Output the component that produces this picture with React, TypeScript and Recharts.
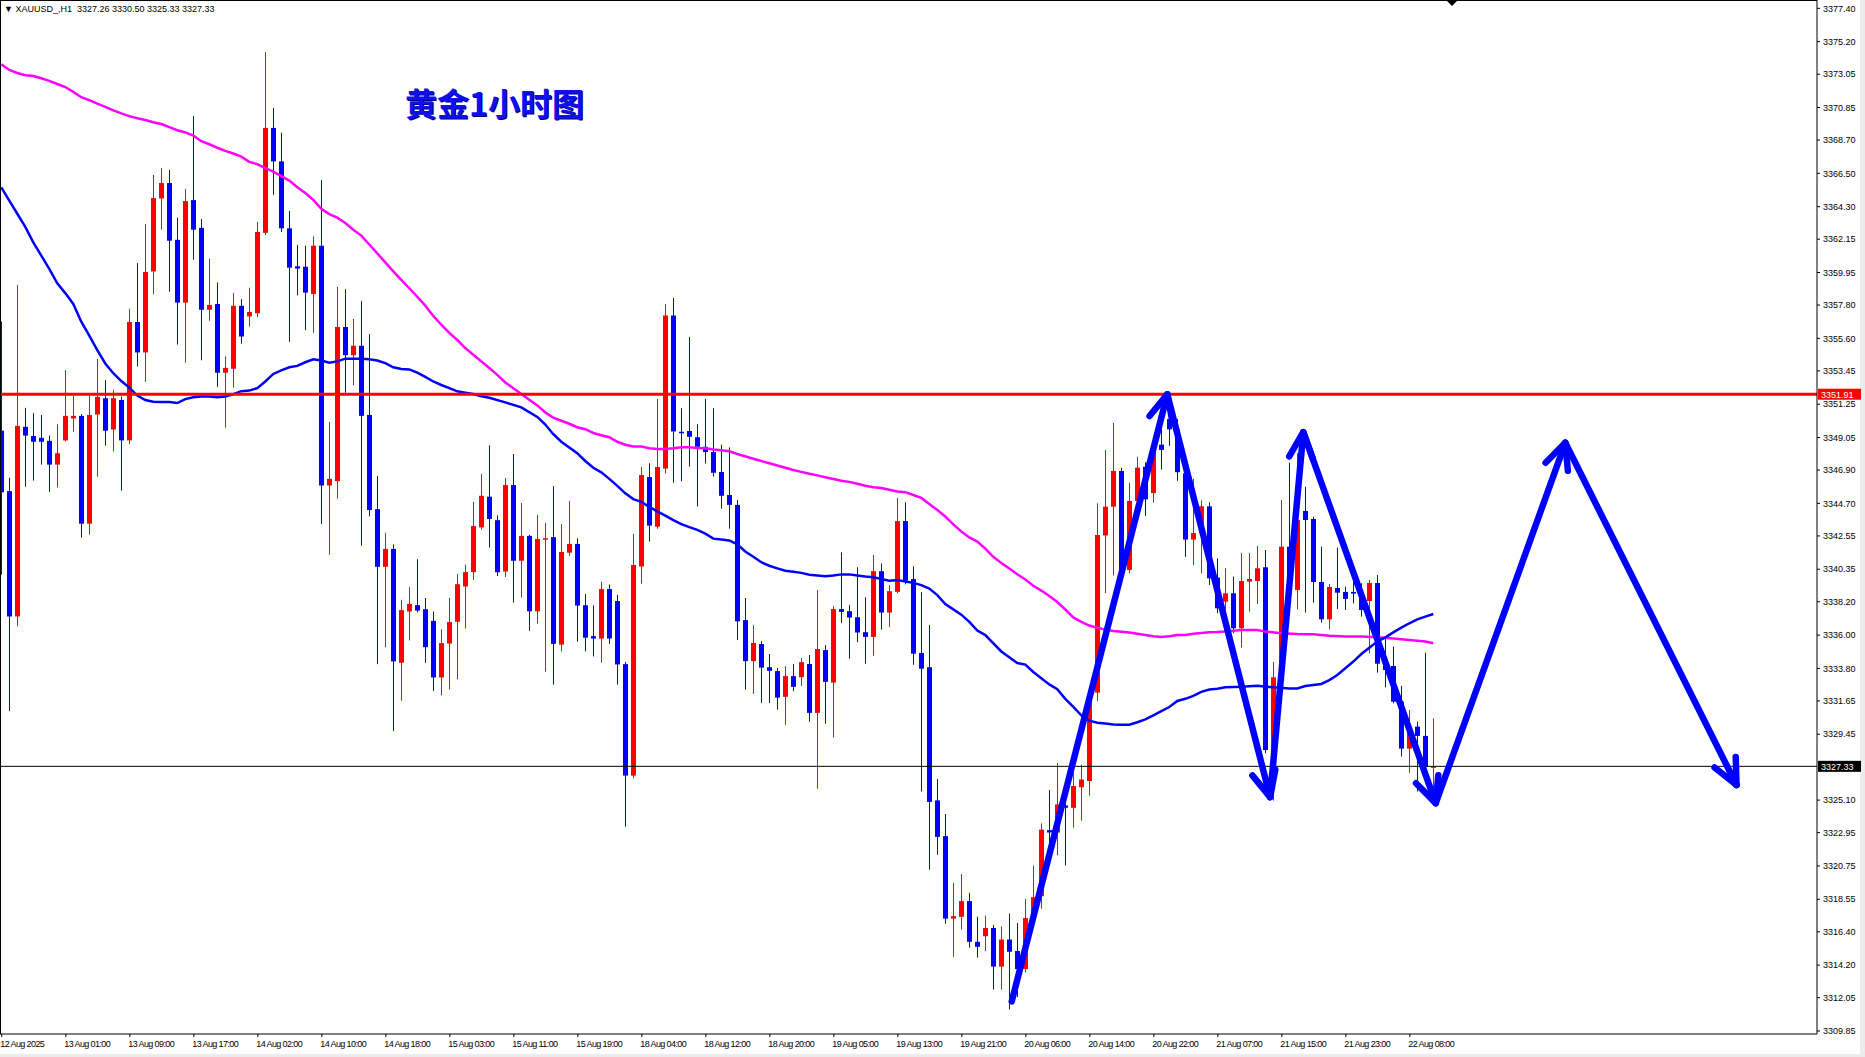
import React from "react";
import { ComposedChart, Bar, Line, XAxis, YAxis, ReferenceLine } from "recharts";

// XAUUSD H1 candles (bar 0 = 12 Aug 17:00)
const opens = [
  3349.5, 3345.51, 3337.23, 3349.76, 3349.15, 3349.03, 3348.83, 3347.26, 3348.86, 3350.31,
  3350.48, 3343.36, 3350.57, 3351.65, 3349.58, 3351.53, 3348.86, 3356.68, 3354.67, 3360.02,
  3364.84, 3365.86, 3362.11, 3357.96, 3364.73, 3362.9, 3357.49, 3357.87, 3353.33, 3353.59,
  3357.75, 3357.05, 3357.26, 3362.57, 3369.5, 3367.29, 3362.87, 3360.36, 3360.33, 3358.53,
  3361.72, 3345.88, 3346.17, 3356.35, 3354.49, 3355.11, 3350.54, 3344.32, 3340.51, 3341.69,
  3334.17, 3337.56, 3337.98, 3337.71, 3336.94, 3333.2, 3335.44, 3336.88, 3339.21, 3340.16,
  3343.11, 3345.14, 3343.59, 3340.2, 3345.91, 3340.91, 3342.55, 3337.57, 3342.3, 3342.47,
  3335.37, 3341.44, 3342.02, 3337.97, 3335.93, 3335.77, 3339.04, 3338.25, 3334.08, 3326.72,
  3340.53, 3346.44, 3343.16, 3347.0, 3357.11, 3349.43, 3349.48, 3349.07, 3348.44, 3348.09,
  3346.77, 3345.25, 3344.6, 3336.99, 3334.28, 3335.41, 3333.88, 3333.62, 3331.92, 3333.29,
  3333.22, 3334.09, 3330.86, 3335.01, 3332.86, 3337.72, 3337.58, 3337.18, 3336.19, 3335.88,
  3340.22, 3337.49, 3338.86, 3343.53, 3339.7, 3334.82, 3333.88, 3325.08, 3322.72, 3317.27,
  3317.39, 3318.43, 3315.74, 3316.11, 3316.65, 3314.1, 3315.89, 3315.13, 3313.94, 3317.52,
  3318.75, 3323.12, 3322.96, 3324.75, 3324.59, 3325.95, 3326.36, 3332.2, 3342.58, 3344.48,
  3346.84, 3340.3, 3344.86, 3347.12, 3345.38, 3348.58, 3350.27, 3349.59, 3346.68, 3342.31,
  3342.74, 3344.5, 3339.8, 3338.21, 3338.76, 3336.45, 3339.53, 3339.57, 3340.48, 3328.41,
  3333.21, 3341.84, 3338.98, 3344.2, 3343.67, 3339.51, 3337.04, 3339.11, 3338.85, 3338.85,
  3338.76, 3338.25, 3339.44, 3334.11, 3333.96, 3331.6, 3328.5, 3329.95, 3329.34, 3327.26,
];

const highs = [
  3356.71, 3346.39, 3359.12, 3351.01, 3350.66, 3350.54, 3349.18, 3349.93, 3353.51, 3351.82,
  3350.6, 3351.91, 3354.23, 3352.84, 3352.2, 3351.76, 3357.55, 3360.57, 3363.16, 3366.39,
  3366.85, 3366.73, 3363.57, 3365.46, 3370.28, 3363.48, 3360.86, 3359.29, 3354.41, 3358.59,
  3358.19, 3358.94, 3363.28, 3374.51, 3370.83, 3369.18, 3364.02, 3361.77, 3361.72, 3362.33,
  3366.05, 3350.07, 3359.0, 3358.85, 3356.88, 3358.06, 3355.88, 3346.5, 3342.75, 3341.99,
  3338.33, 3339.16, 3341.01, 3338.45, 3337.56, 3336.38, 3338.45, 3340.04, 3340.66, 3344.79,
  3346.65, 3348.53, 3343.91, 3346.37, 3347.96, 3344.72, 3342.63, 3343.94, 3343.41, 3345.84,
  3343.33, 3344.85, 3342.4, 3338.71, 3337.97, 3339.52, 3339.34, 3338.66, 3334.23, 3342.68,
  3347.1, 3347.35, 3351.6, 3357.87, 3358.27, 3350.99, 3355.69, 3349.93, 3351.6, 3350.99,
  3348.57, 3348.39, 3344.92, 3338.45, 3336.66, 3335.6, 3334.75, 3333.83, 3333.95, 3334.09,
  3334.49, 3334.68, 3338.97, 3335.34, 3337.91, 3341.47, 3337.98, 3340.48, 3338.5, 3341.29,
  3340.74, 3339.3, 3345.06, 3344.78, 3340.55, 3338.83, 3336.66, 3326.49, 3324.18, 3319.63,
  3320.22, 3318.97, 3317.39, 3317.47, 3316.85, 3316.76, 3317.61, 3316.98, 3318.56, 3320.78,
  3323.56, 3325.76, 3327.55, 3325.4, 3327.44, 3327.44, 3332.4, 3344.7, 3348.23, 3350.02,
  3347.06, 3346.06, 3347.77, 3347.42, 3349.05, 3349.59, 3351.22, 3350.27, 3347.42, 3346.33,
  3344.89, 3344.78, 3341.07, 3340.41, 3339.86, 3341.42, 3341.42, 3341.89, 3341.62, 3334.22,
  3344.92, 3347.39, 3348.01, 3345.8, 3343.82, 3341.84, 3339.38, 3341.78, 3339.2, 3339.64,
  3339.42, 3339.64, 3339.97, 3335.9, 3335.24, 3332.64, 3331.05, 3330.28, 3334.84, 3330.5,
];

const lows = [
  3339.99, 3330.98, 3336.59, 3345.8, 3346.21, 3347.26, 3345.46, 3345.75, 3348.8, 3349.44,
  3342.43, 3342.64, 3346.47, 3348.51, 3348.13, 3345.54, 3348.62, 3353.74, 3352.72, 3358.51,
  3362.78, 3358.68, 3355.19, 3354.0, 3360.8, 3354.15, 3356.76, 3352.4, 3349.7, 3352.34,
  3355.25, 3356.39, 3357.0, 3362.42, 3365.08, 3362.63, 3355.37, 3358.44, 3356.14, 3355.96,
  3343.34, 3341.31, 3345.02, 3352.01, 3352.51, 3341.9, 3343.84, 3334.08, 3335.2, 3329.66,
  3331.67, 3335.65, 3337.5, 3334.17, 3332.31, 3332.02, 3332.4, 3333.08, 3336.44, 3339.63,
  3342.96, 3341.78, 3339.9, 3339.84, 3338.15, 3338.48, 3336.28, 3336.76, 3333.58, 3332.72,
  3334.92, 3341.23, 3335.57, 3334.92, 3334.59, 3334.18, 3335.42, 3332.72, 3323.34, 3326.55,
  3339.39, 3342.17, 3343.03, 3346.67, 3346.06, 3346.16, 3347.13, 3344.5, 3347.33, 3346.47,
  3344.35, 3343.03, 3335.67, 3332.39, 3332.11, 3331.52, 3331.52, 3331.07, 3330.08, 3332.3,
  3332.63, 3330.27, 3325.86, 3330.15, 3329.23, 3336.8, 3334.44, 3335.53, 3334.11, 3334.63,
  3336.36, 3336.54, 3338.76, 3339.35, 3334.04, 3325.67, 3320.5, 3321.49, 3316.94, 3314.75,
  3316.54, 3315.36, 3314.7, 3315.13, 3312.58, 3312.58, 3311.27, 3312.09, 3313.72, 3317.25,
  3317.93, 3321.33, 3321.46, 3320.78, 3323.28, 3323.75, 3325.4, 3331.65, 3338.77, 3339.94,
  3339.81, 3340.08, 3344.7, 3343.88, 3344.75, 3346.93, 3348.5, 3346.19, 3341.17, 3340.62,
  3340.08, 3339.3, 3337.44, 3337.66, 3336.12, 3335.17, 3337.55, 3338.05, 3328.19, 3325.07,
  3333.0, 3338.54, 3337.7, 3337.48, 3338.14, 3336.82, 3336.38, 3337.72, 3337.66, 3338.1,
  3337.22, 3334.8, 3333.52, 3332.55, 3331.49, 3327.97, 3326.91, 3325.66, 3326.43, 3325.33,
];

const closes = [
  3345.43, 3337.23, 3349.82, 3349.18, 3348.77, 3348.77, 3347.26, 3348.01, 3350.48, 3350.48,
  3343.36, 3350.54, 3351.73, 3349.5, 3351.65, 3348.86, 3356.68, 3354.67, 3359.99, 3364.87,
  3365.86, 3362.05, 3357.96, 3364.67, 3362.78, 3357.49, 3357.81, 3353.33, 3353.65, 3357.75,
  3355.72, 3357.34, 3362.63, 3369.5, 3367.29, 3362.87, 3360.27, 3360.21, 3358.62, 3361.72,
  3345.88, 3346.32, 3356.35, 3354.49, 3355.11, 3350.48, 3344.26, 3340.51, 3341.69, 3334.26,
  3337.65, 3338.06, 3337.62, 3335.2, 3333.2, 3335.47, 3336.86, 3339.36, 3340.16, 3343.2,
  3345.2, 3343.67, 3340.15, 3345.91, 3340.91, 3342.55, 3337.57, 3342.35, 3342.4, 3335.42,
  3341.49, 3342.02, 3337.95, 3335.83, 3335.77, 3339.04, 3335.77, 3334.06, 3326.72, 3340.63,
  3346.57, 3343.23, 3347.1, 3357.11, 3349.45, 3349.35, 3349.1, 3348.44, 3348.09, 3346.72,
  3345.2, 3344.6, 3336.91, 3334.28, 3335.48, 3333.85, 3333.64, 3331.87, 3333.29, 3332.58,
  3334.21, 3330.86, 3335.08, 3332.91, 3337.72, 3337.53, 3337.16, 3336.17, 3335.88, 3340.22,
  3337.49, 3338.9, 3343.53, 3339.59, 3334.77, 3333.78, 3324.98, 3322.67, 3317.27, 3317.44,
  3318.43, 3315.74, 3315.41, 3316.65, 3314.1, 3315.89, 3315.08, 3313.94, 3317.31, 3318.69,
  3323.15, 3322.96, 3324.81, 3324.59, 3326.03, 3326.46, 3332.1, 3342.61, 3344.48, 3346.84,
  3340.3, 3344.86, 3347.06, 3344.97, 3348.5, 3348.23, 3349.59, 3346.76, 3342.31, 3342.74,
  3344.51, 3339.75, 3337.77, 3338.76, 3336.45, 3339.57, 3339.71, 3340.41, 3328.41, 3333.21,
  3341.84, 3339.2, 3343.6, 3343.6, 3339.51, 3337.04, 3339.18, 3338.8, 3338.39, 3338.74,
  3337.66, 3339.44, 3334.11, 3333.7, 3331.6, 3328.5, 3329.84, 3329.34, 3327.31, 3327.33,
];

// moving averages, [bar, price]
const blueMa = [
  [0, 3365.57], [1, 3364.7], [2, 3363.83], [3, 3362.96], [4, 3361.94], [5, 3361.07], [6, 3360.19],
  [7, 3359.23], [8, 3358.59], [9, 3357.87], [10, 3356.7], [11, 3355.78], [12, 3354.82], [13, 3353.94],
  [14, 3353.3], [15, 3352.78], [16, 3352.35], [17, 3351.82], [18, 3351.53], [19, 3351.41], [20, 3351.39],
  [21, 3351.39], [22, 3351.33], [23, 3351.59], [24, 3351.71], [25, 3351.76], [26, 3351.76], [27, 3351.71],
  [28, 3351.76], [29, 3351.91], [30, 3352.11], [31, 3352.15], [32, 3352.31], [33, 3352.75], [34, 3353.25],
  [35, 3353.49], [36, 3353.69], [37, 3353.78], [38, 3354.02], [39, 3354.22], [40, 3354.14], [41, 3353.99],
  [42, 3354.08], [43, 3354.26], [44, 3354.26], [45, 3354.26], [46, 3354.22], [47, 3354.14], [48, 3353.96],
  [49, 3353.69], [50, 3353.58], [51, 3353.55], [52, 3353.34], [53, 3353.05], [54, 3352.75], [55, 3352.52],
  [56, 3352.31], [57, 3352.1], [58, 3352.01], [59, 3351.92], [60, 3351.78], [61, 3351.68], [63, 3351.37],
  [65, 3351.04], [67, 3350.41], [68, 3349.91], [69, 3349.27], [70, 3348.77], [71, 3348.39], [72, 3348.01],
  [73, 3347.5], [74, 3347.05], [75, 3346.75], [76, 3346.32], [77, 3345.86], [78, 3345.36], [79, 3344.98],
  [80, 3344.8], [81, 3344.47], [82, 3344.17], [83, 3343.89], [84, 3343.59], [85, 3343.33], [86, 3343.13],
  [87, 3342.95], [88, 3342.7], [89, 3342.37], [90, 3342.32], [91, 3342.25], [92, 3342.0], [93, 3341.52],
  [94, 3341.17], [95, 3340.81], [96, 3340.58], [97, 3340.41], [98, 3340.25], [99, 3340.18], [100, 3340.11],
  [101, 3339.99], [102, 3339.94], [103, 3339.89], [104, 3339.94], [105, 3340.01], [106, 3340.01],
  [107, 3339.94], [108, 3339.87], [109, 3339.82], [110, 3339.7], [111, 3339.59], [112, 3339.63],
  [113, 3339.54], [114, 3339.45], [115, 3339.3], [116, 3339.07], [117, 3338.64], [118, 3338.05],
  [119, 3337.7], [120, 3337.35], [121, 3336.87], [122, 3336.3], [123, 3336.0], [125, 3334.92],
  [127, 3334.15], [128, 3334.05], [129, 3333.56], [130, 3333.15], [131, 3332.74], [132, 3332.42],
  [133, 3331.79], [134, 3331.25], [135, 3330.7], [136, 3330.35], [137, 3330.21], [138, 3330.16],
  [139, 3330.1], [140, 3330.08], [141, 3330.08], [142, 3330.24], [143, 3330.43], [144, 3330.7],
  [145, 3330.98], [146, 3331.25], [147, 3331.65], [148, 3331.79], [149, 3331.98], [150, 3332.25],
  [151, 3332.4], [152, 3332.45], [153, 3332.55], [155, 3332.59], [157, 3332.66], [159, 3332.55],
  [161, 3332.48], [162, 3332.48], [163, 3332.64], [164, 3332.7], [165, 3332.77], [166, 3333.03],
  [167, 3333.36], [168, 3333.81], [169, 3334.25], [170, 3334.75], [171, 3335.17], [172, 3335.57],
  [173, 3335.85], [174, 3336.18], [175, 3336.49], [176, 3336.78], [177, 3337.04], [178, 3337.22],
  [179, 3337.39],
];

const magentaMa = [
  [0, 3373.71], [1, 3373.33], [2, 3373.13], [3, 3372.98], [4, 3372.93], [5, 3372.78], [6, 3372.61],
  [7, 3372.4], [8, 3372.2], [9, 3371.88], [10, 3371.53], [11, 3371.33], [12, 3371.1], [13, 3370.89],
  [14, 3370.66], [15, 3370.46], [16, 3370.28], [17, 3370.14], [18, 3370.02], [19, 3369.87], [20, 3369.76],
  [21, 3369.55], [22, 3369.35], [23, 3369.21], [24, 3369.0], [25, 3368.62], [26, 3368.42], [27, 3368.19],
  [28, 3367.98], [29, 3367.81], [30, 3367.6], [31, 3367.26], [32, 3367.11], [33, 3366.85], [34, 3366.61],
  [35, 3366.32], [36, 3366.02], [37, 3365.58], [38, 3365.2], [39, 3364.75], [40, 3364.16], [41, 3363.81],
  [42, 3363.57], [43, 3363.22], [44, 3362.78], [45, 3362.39], [46, 3361.8], [47, 3361.21], [48, 3360.62],
  [49, 3360.03], [50, 3359.47], [51, 3358.91], [52, 3358.35], [53, 3357.76], [54, 3357.08], [55, 3356.5],
  [56, 3355.96], [57, 3355.49], [58, 3354.96], [59, 3354.52], [60, 3354.08], [61, 3353.64], [62, 3353.19],
  [63, 3352.69], [64, 3352.31], [65, 3351.93], [66, 3351.55], [67, 3351.17], [68, 3350.71], [69, 3350.36],
  [70, 3350.16], [71, 3349.96], [72, 3349.73], [73, 3349.6], [74, 3349.35], [75, 3349.2], [76, 3349.07],
  [77, 3348.77], [78, 3348.57], [79, 3348.46], [80, 3348.46], [81, 3348.34], [82, 3348.29], [83, 3348.29],
  [84, 3348.34], [85, 3348.41], [86, 3348.41], [87, 3348.36], [88, 3348.34], [89, 3348.26], [90, 3348.21],
  [91, 3348.14], [92, 3347.96], [94, 3347.65], [96, 3347.35], [98, 3347.05], [99, 3346.9], [100, 3346.78],
  [101, 3346.66], [102, 3346.55], [103, 3346.43], [104, 3346.31], [105, 3346.19], [106, 3346.12],
  [107, 3346.0], [108, 3345.86], [109, 3345.77], [110, 3345.72], [111, 3345.6], [112, 3345.48],
  [113, 3345.44], [114, 3345.25], [115, 3345.06], [116, 3344.66], [117, 3344.26], [118, 3343.83],
  [119, 3343.31], [120, 3342.84], [121, 3342.45], [122, 3342.18], [123, 3341.71], [124, 3341.17],
  [125, 3340.76], [126, 3340.4], [127, 3340.02], [128, 3339.67], [129, 3339.26], [130, 3338.94],
  [131, 3338.58], [132, 3338.18], [133, 3337.69], [134, 3337.17], [135, 3336.87], [136, 3336.63],
  [137, 3336.49], [138, 3336.36], [139, 3336.27], [140, 3336.22], [141, 3336.17], [142, 3336.09],
  [143, 3336.0], [144, 3335.92], [145, 3335.87], [146, 3335.92], [147, 3336.0], [148, 3336.0],
  [149, 3336.09], [150, 3336.14], [151, 3336.19], [152, 3336.2], [153, 3336.23], [155, 3336.34],
  [157, 3336.34], [158, 3336.23], [160, 3336.12], [162, 3336.07], [164, 3336.05], [166, 3335.96],
  [168, 3335.9], [170, 3335.9], [172, 3335.85], [174, 3335.77], [176, 3335.68], [178, 3335.57],
  [179, 3335.46],
];

// hand-drawn forecast zigzag, [bar, price]
const arrowPath = [
  [126.3, 3311.8], [145.75, 3351.9], [158.6, 3325.3], [162.75, 3349.4],
  [179.3, 3324.9], [195.5, 3348.7], [216.9, 3326.1],
];

const resistance = 3351.91;
const lastPrice = 3327.33;

const priceTicks = [
  3377.4, 3375.2, 3373.05, 3370.85, 3368.7, 3366.5, 3364.3, 3362.15, 3359.95, 3357.8, 3355.6,
  3353.45, 3351.25, 3349.05, 3346.9, 3344.7, 3342.55, 3340.35, 3338.2, 3336.0, 3333.8, 3331.65,
  3329.45, 3325.1, 3322.95, 3320.75, 3318.55, 3316.4, 3314.2, 3312.05, 3309.85,
];

const timeLabels = [
  "12 Aug 2025", "13 Aug 01:00", "13 Aug 09:00", "13 Aug 17:00", "14 Aug 02:00", "14 Aug 10:00",
  "14 Aug 18:00", "15 Aug 03:00", "15 Aug 11:00", "15 Aug 19:00", "18 Aug 04:00", "18 Aug 12:00",
  "18 Aug 20:00", "19 Aug 05:00", "19 Aug 13:00", "19 Aug 21:00", "20 Aug 06:00", "20 Aug 14:00",
  "20 Aug 22:00", "21 Aug 07:00", "21 Aug 15:00", "21 Aug 23:00", "22 Aug 08:00",
];
const timeTickBars = timeLabels.map((_, k) => k * 8);

const W = 1865;
const H = 1057;
const AXIS_W = 48;
const AXIS_H = 23;
const PLOT_W = W - AXIS_W;
const PLOT_H = H - AXIS_H;
const FONT = "'Liberation Sans', Arial, sans-serif";

const candles = opens.map((o, i) => ({
  i,
  o,
  h: highs[i],
  l: lows[i],
  c: closes[i],
  range: [lows[i], highs[i]],
}));
const toPts = (arr: number[][]) => arr.map(([i, v]) => ({ i, v }));

function Candle(p: any) {
  const { x, y, width, height, payload } = p;
  if (!payload || x == null || y == null) return <g />;
  const { o, h, l, c } = payload;
  const cx = Math.round(x + width / 2) + 0.5;
  const top = Math.min(y, y + height);
  const span = Math.abs(height);
  const k = h - l > 0 ? span / (h - l) : 0;
  const yO = top + (h - o) * k;
  const yC = top + (h - c) * k;
  const col = c >= o ? "#ff0000" : "#0000ff";
  const bTop = Math.min(yO, yC);
  const bH = Math.max(Math.abs(yO - yC), 1.5);
  return (
    <g>
      <line x1={cx} x2={cx} y1={top} y2={top + span} stroke={col} strokeWidth={1} />
      <rect x={cx - 2.5} y={bTop} width={5} height={bH} fill={col} />
    </g>
  );
}

function makeArrowHeads(color: string, sw: number) {
  let prev: { x: number; y: number } | null = null;
  return (p: any) => {
    const { cx, cy, index } = p;
    const key = `ah-${index}`;
    if (index === 0 || !prev) {
      prev = { x: cx, y: cy };
      return <g key={key} />;
    }
    const ang = Math.atan2(cy - prev.y, cx - prev.x);
    prev = { x: cx, y: cy };
    const len = 28;
    const spread = (25 * Math.PI) / 180;
    const a1 = ang + Math.PI - spread;
    const a2 = ang + Math.PI + spread;
    return (
      <g key={key}>
        <line x1={cx} y1={cy} x2={cx + len * Math.cos(a1)} y2={cy + len * Math.sin(a1)}
          stroke={color} strokeWidth={sw} strokeLinecap="round" />
        <line x1={cx} y1={cy} x2={cx + len * Math.cos(a2)} y2={cy + len * Math.sin(a2)}
          stroke={color} strokeWidth={sw} strokeLinecap="round" />
      </g>
    );
  };
}
const arrowHeads = makeArrowHeads("#0000ff", 6.5);

function TimeTick(p: any) {
  const { x, payload } = p;
  const idx = timeTickBars.indexOf(payload.value);
  return (
    <g>
      <line x1={x + 0.5} x2={x + 0.5} y1={PLOT_H} y2={PLOT_H + 3} stroke="#000" />
      <text x={x - 1} y={PLOT_H + 13} fontSize={9} fontFamily={FONT} fill="#000"
        letterSpacing={-0.6} textAnchor="start">
        {idx >= 0 ? timeLabels[idx] : ""}
      </text>
    </g>
  );
}

// coloured price tag sitting on the right axis
function priceBox(bg: string, value: number) {
  return (p: any) => {
    const vb = p.viewBox || {};
    const x0 = (vb.x || 0) + (vb.width || 0) + 1;
    const y0 = vb.y || 0;
    return (
      <g>
        <rect x={x0} y={y0 - 5.5} width={43} height={11} fill={bg} />
        <text x={x0 + 3} y={y0 + 3.5} fontSize={9} fontFamily={FONT} fill="#fff">
          {value.toFixed(2)}
        </text>
      </g>
    );
  };
}

export default function App() {
  return (
    <div style={{ position: "fixed", left: 0, top: 0, width: W, height: H, background: "#ececec" }}>
      <div style={{ position: "absolute", left: 0, top: 0, width: 1860, height: 1054, background: "#fff" }} />
      <div style={{ position: "absolute", left: 0, top: 0 }}>
        <ComposedChart width={W} height={H} data={candles}
          margin={{ top: 0, right: 0, bottom: 0, left: 0 }}>
          <XAxis type="number" dataKey="i" domain={[-0.16, 226.96]} allowDataOverflow
            ticks={timeTickBars} interval={0} tick={<TimeTick />} tickLine={false}
            tickSize={0} height={AXIS_H} axisLine={{ stroke: "#000", strokeWidth: 1 }} />
          <YAxis orientation="right" type="number" domain={[3309.65, 3377.95]} allowDataOverflow
            ticks={priceTicks} interval={0} width={AXIS_W} tickSize={3} tickMargin={3}
            tickFormatter={(v: number) => v.toFixed(2)}
            tick={{ fontSize: 9, fill: "#000", fontFamily: FONT }}
            axisLine={{ stroke: "#000" }} tickLine={{ stroke: "#000" }} />
          <Bar dataKey="range" barSize={6} isAnimationActive={false}
            shape={(p: any) => <Candle {...p} />} />
          <Line data={toPts(magentaMa)} dataKey="v" type="linear" stroke="#ff00ff"
            strokeWidth={2.5} dot={false} activeDot={false} isAnimationActive={false} />
          <Line data={toPts(blueMa)} dataKey="v" type="linear" stroke="#0000ff"
            strokeWidth={2.5} dot={false} activeDot={false} isAnimationActive={false} />
          <ReferenceLine y={resistance} stroke="#ff0000" strokeWidth={3}
            label={priceBox("#ff0000", resistance)} />
          <ReferenceLine y={lastPrice} stroke="#000" strokeWidth={1}
            label={priceBox("#000", lastPrice)} />
          <Line data={toPts(arrowPath)} dataKey="v" type="linear" stroke="#0000ff"
            strokeWidth={6.5} strokeLinejoin="round" strokeLinecap="round"
            dot={arrowHeads} activeDot={false} isAnimationActive={false} />
        </ComposedChart>
      </div>
      {/* chart frame top/left */}
      <div style={{ position: "absolute", left: 0, top: 0, width: PLOT_W, height: PLOT_H,
        borderTop: "1px solid #000", borderLeft: "1px solid #000", boxSizing: "border-box",
        pointerEvents: "none" }} />
      <div style={{ position: "absolute", left: 4, top: 4, fontFamily: FONT, fontSize: 9,
        lineHeight: "11px", color: "#000", whiteSpace: "pre" }}>
        {"\u25BC XAUUSD_,H1  3327.26 3330.50 3325.33 3327.33"}
      </div>
      <svg style={{ position: "absolute", left: 0, top: 0, pointerEvents: "none" }} width={W} height={12}>
        <polygon points="1447,1 1457,1 1452,6" fill="#000" />
      </svg>
      <div style={{ position: "absolute", left: 405, top: 86, fontFamily: "'Noto Sans CJK SC', sans-serif",
        fontWeight: 700, fontSize: 32, lineHeight: "32px", color: "#1010ee",
        textShadow: "1px 1px 0 #00007a", whiteSpace: "nowrap" }}>
        黄金1小时图
      </div>
    </div>
  );
}
